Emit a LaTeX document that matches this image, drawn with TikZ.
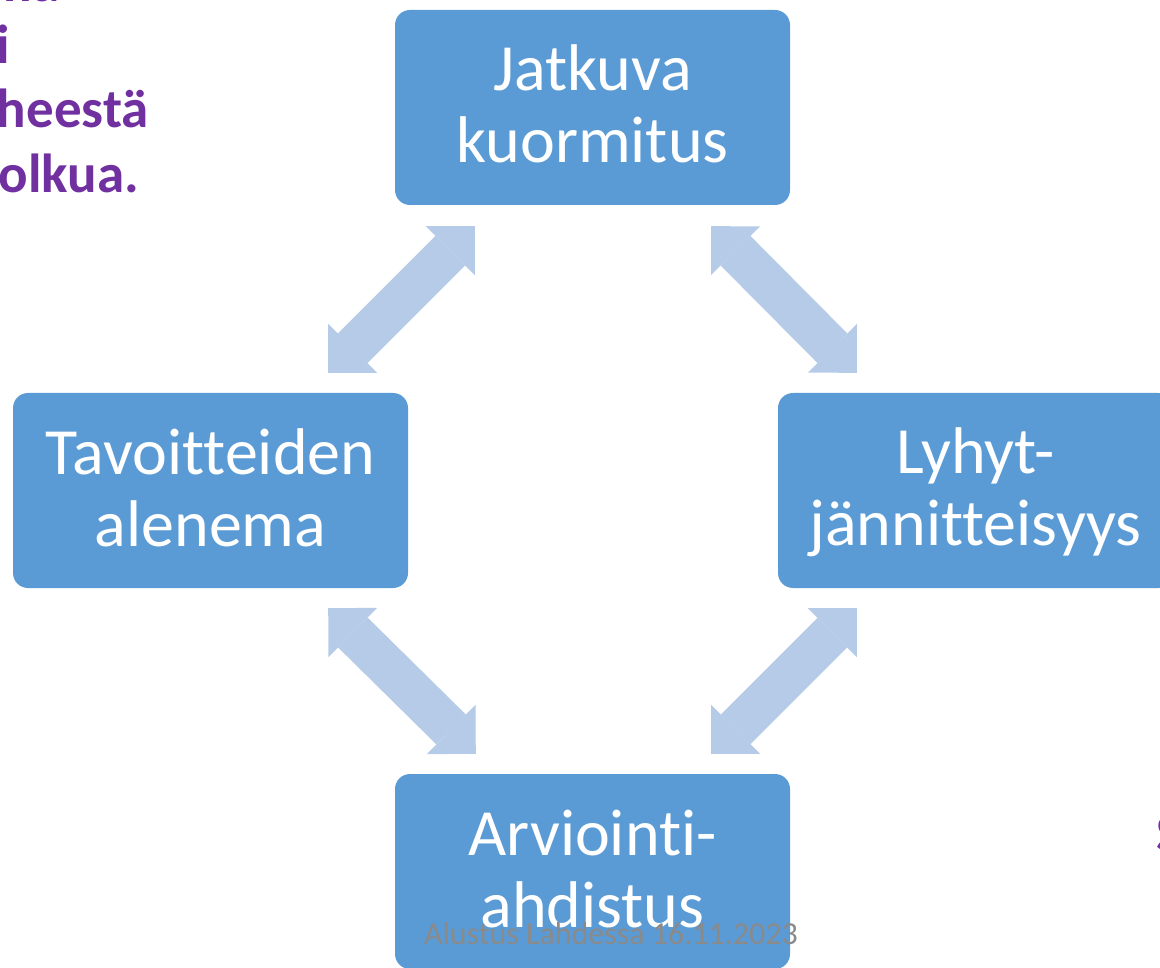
\documentclass[tikz,border=0pt]{standalone}
\usepackage{fontspec}
\setmainfont[Ligatures=NoCommon]{Carlito}
\usetikzlibrary{arrows.meta,calc}
\definecolor{boxblue}{HTML}{5B9BD5}
\definecolor{arrowblue}{HTML}{B6CBE8}
\definecolor{textpurple}{HTML}{7030A0}
\definecolor{footgray}{HTML}{8A8A8A}
\newcommand{\lineA}{\rule{0pt}{49pt}}
\newcommand{\lineZ}{\rule[-10pt]{0pt}{10pt}}
\tikzset{
  cyclebox/.style={fill=boxblue, rounded corners=15pt, minimum width=395pt,
    minimum height=195pt, inner sep=0pt, text=white, align=center,
    font=\fontsize{66}{72}\selectfont},
  blockarrow/.style={draw=arrowblue, line width=42pt,
    {Triangle[length=34.6pt,width=69.3pt,line width=0pt]}-{Triangle[length=34.6pt,width=69.3pt,line width=0pt]}},
  purpletext/.style={text=textpurple, font=\fontsize{55}{64}\selectfont\bfseries, inner sep=0pt},
  foottext/.style={text=footgray, font=\fontsize{32}{36}\selectfont, inner sep=0pt},
}
\begin{document}
\begin{tikzpicture}[x=1pt,y=1pt]
\useasboundingbox (0,0) rectangle (1160,-968);
\clip (0,0) rectangle (1160,-968);

% purple partial texts
\node[purpletext, anchor=base east] (p1) at (60,-2) {ma};
\node[purpletext, anchor=base east] (p2) at (10,-64) {i};
\node[purpletext, anchor=base east] (p3) at (149,-128) {heestä};
\node[purpletext, anchor=base east] (p4) at (139,-193) {olkua.};
\node[purpletext, anchor=base west] (p5) at (1156,-851) {S};

% boxes
\node[cyclebox] (jatkuva) at (592.5,-107.5) {\lineA Jatkuva\\kuormitus\lineZ};
\node[cyclebox] (tavoite) at (210.5,-490.5) {\lineA Tavoitteiden\\alenema\lineZ};
\node[cyclebox] (lyhyt) at (975.5,-490.5) {\lineA Lyhyt-\\jännitteisyys\lineZ};
\node[cyclebox] (arvio) at (592.5,-871.5) {\lineA Arviointi-\\ahdistus\lineZ};

% double block arrows
\draw[blockarrow] ($(jatkuva.south west)+(80,-21)$) -- ($(tavoite.north east)+(-80,20)$);
\draw[blockarrow] ($(jatkuva.south east)+(-79,-21)$) -- ($(lyhyt.north west)+(79,20)$);
\draw[blockarrow] ($(tavoite.south east)+(-80,-20)$) -- ($(arvio.north west)+(81,20)$);
\draw[blockarrow] ($(lyhyt.south west)+(79,-20)$) -- ($(arvio.north east)+(-79,20)$);

% footer
\node[foottext, anchor=base] (footer) at (611,-944) {Alustus Lahdessa 16.11.2023};
\end{tikzpicture}
\end{document}
